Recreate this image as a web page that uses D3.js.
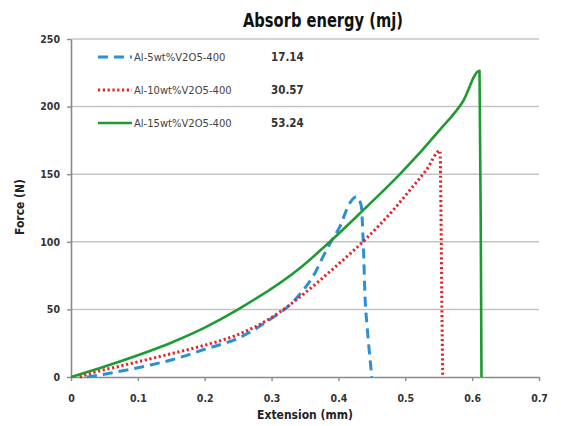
<!DOCTYPE html>
<html>
<head>
<meta charset="utf-8">
<script src="https://cdn.jsdelivr.net/npm/d3@7"></script>
<style>
  body { margin: 0; background: #fff; }
  text { font-family: "Liberation Sans Narrow", "DejaVu Sans Condensed", sans-serif; }
</style>
</head>
<body>
<div id="chart"></div>
<script>
const WIDTH = 561,
  HEIGHT = 426,
  PLOT_LEFT = 71,
  PLOT_RIGHT = 539,
  PLOT_TOP = 39,
  PLOT_BOTTOM = 377;

// data (extension in mm, force in N)
const series_names = ["Al-5wt%V2O5-400", "Al-10wt%V2O5-400", "Al-15wt%V2O5-400"];
const absorb_energy = ["17.14", "30.57", "53.24"];

const ext_5 = [0.024, 0.06, 0.12, 0.15, 0.2, 0.253, 0.3, 0.33, 0.347, 0.365, 0.377, 0.39, 0.402, 0.417, 0.427, 0.434, 0.437, 0.44, 0.443, 0.45];
const force_5 = [0, 3, 9, 12.6, 20.5, 29.3, 43.4, 54.5, 64, 77, 89, 101, 111, 128.7, 133.4, 127, 101, 57, 37, 0];

const ext_10 = [0.013, 0.028, 0.073, 0.148, 0.2, 0.253, 0.3, 0.347, 0.392, 0.442, 0.482, 0.507, 0.532, 0.552, 0.5534, 0.555, 0.556];
const force_10 = [0, 2.5, 8, 17, 23.5, 32, 44, 61, 80, 102.6, 123.5, 138.3, 153.5, 167.4, 120, 40, 0];

const ext_15 = [0, 0.0135, 0.073, 0.148, 0.2, 0.25, 0.345, 0.39, 0.432, 0.492, 0.552, 0.586, 0.611, 0.613, 0.614];
const force_15 = [0, 2, 11.5, 25, 36.5, 50, 81.6, 101.3, 121, 150, 183, 203.6, 226.5, 100, 0];

const x_ticks = [0, 0.1, 0.2, 0.3, 0.4, 0.5, 0.6, 0.7];
const y_ticks = [0, 50, 100, 150, 200, 250];

const series_styles = [
  { color: "#2a8fd6", width: 3, dash: "10,6" },
  { color: "#e3232a", width: 3, dash: "2.2,2.6" },
  { color: "#1f9a33", width: 2.6, dash: null }
];

function to_points(xs, ys) {
  return xs.map(function(d, i) { return [d, ys[i]]; });
}

const series_data = [
  to_points(ext_5, force_5),
  to_points(ext_10, force_10),
  to_points(ext_15, force_15)
];

var svg = d3
  .select("#chart")
  .append("svg")
  .attr("width", WIDTH)
  .attr("height", HEIGHT);

var x = d3.scaleLinear().domain([0, 0.7]).range([PLOT_LEFT, PLOT_RIGHT]);
var y = d3.scaleLinear().domain([0, 250]).range([PLOT_BOTTOM, PLOT_TOP]);

// horizontal gridlines
svg
  .append("g")
  .selectAll("line")
  .data(y_ticks.filter(function(d) { return d > 0; }))
  .enter()
  .append("line")
  .attr("x1", PLOT_LEFT)
  .attr("x2", PLOT_RIGHT)
  .attr("y1", function(d) { return y(d); })
  .attr("y2", function(d) { return y(d); })
  .attr("stroke", "#c4c4c4")
  .attr("stroke-width", 1.5);

var x_axis = svg
  .append("g")
  .attr("transform", "translate(0," + PLOT_BOTTOM + ")")
  .call(
    d3.axisBottom(x)
      .tickValues(x_ticks)
      .tickSize(4)
      .tickSizeOuter(0)
      .tickPadding(14)
      .tickFormat(function(d) { return d === 0 ? "0" : d3.format(".1f")(d); })
  );

var y_axis = svg
  .append("g")
  .attr("transform", "translate(" + PLOT_LEFT + ",0)")
  .call(
    d3.axisLeft(y)
      .tickValues(y_ticks)
      .tickSize(4)
      .tickSizeOuter(0)
      .tickPadding(7)
  );

[x_axis, y_axis].forEach(function(ax) {
  ax.select(".domain").attr("stroke", "#8a8a8a").attr("stroke-width", 1.6);
  ax.selectAll(".tick line").attr("stroke", "#8a8a8a").attr("stroke-width", 1.4);
  ax.selectAll(".tick text")
    .attr("fill", "#333")
    .attr("font-size", 10.5)
    .attr("font-weight", "bold");
});

// curves
var line = d3
  .line()
  .x(function(d) { return x(d[0]); })
  .y(function(d) { return y(d[1]); })
  .curve(d3.curveMonotoneX);

svg
  .append("g")
  .selectAll("path")
  .data(series_data)
  .enter()
  .append("path")
  .attr("d", line)
  .attr("fill", "none")
  .attr("stroke", function(d, i) { return series_styles[i].color; })
  .attr("stroke-width", function(d, i) { return series_styles[i].width; })
  .attr("stroke-dasharray", function(d, i) { return series_styles[i].dash; })
  .attr("stroke-linejoin", "round");

// title
svg
  .append("text")
  .attr("x", 323)
  .attr("y", 27)
  .attr("text-anchor", "middle")
  .attr("font-size", 19)
  .attr("font-weight", "bold")
  .attr("fill", "#111")
  .attr("textLength", 160)
  .attr("lengthAdjust", "spacingAndGlyphs")
  .text("Absorb energy (mj)");

// legend
var legend_rows = svg
  .append("g")
  .selectAll("g")
  .data(series_names)
  .enter()
  .append("g")
  .attr("transform", function(d, i) { return "translate(0," + (57 + i * 33) + ")"; });

legend_rows
  .append("line")
  .attr("x1", 98)
  .attr("x2", 132)
  .attr("stroke", function(d, i) { return series_styles[i].color; })
  .attr("stroke-width", function(d, i) { return series_styles[i].width; })
  .attr("stroke-dasharray", function(d, i) { return series_styles[i].dash; });

legend_rows
  .append("text")
  .attr("x", 134)
  .attr("dy", "0.35em")
  .attr("font-size", 10.5)
  .attr("fill", "#444")
  .attr("textLength", function(d) { return d.length * 6.1; })
  .attr("lengthAdjust", "spacingAndGlyphs")
  .text(function(d) { return d; });

legend_rows
  .append("text")
  .attr("x", 271)
  .attr("dy", "0.35em")
  .attr("font-size", 11.5)
  .attr("font-weight", "bold")
  .attr("fill", "#333")
  .text(function(d, i) { return absorb_energy[i]; });

// axis titles
svg
  .append("text")
  .attr("x", 305)
  .attr("y", 419)
  .attr("text-anchor", "middle")
  .attr("font-size", 12)
  .attr("font-weight", "bold")
  .attr("fill", "#222")
  .text("Extension (mm)");

svg
  .append("text")
  .attr("transform", "translate(24,207) rotate(-90)")
  .attr("text-anchor", "middle")
  .attr("font-size", 12)
  .attr("font-weight", "bold")
  .attr("fill", "#222")
  .text("Force (N)");
</script>
</body>
</html>
